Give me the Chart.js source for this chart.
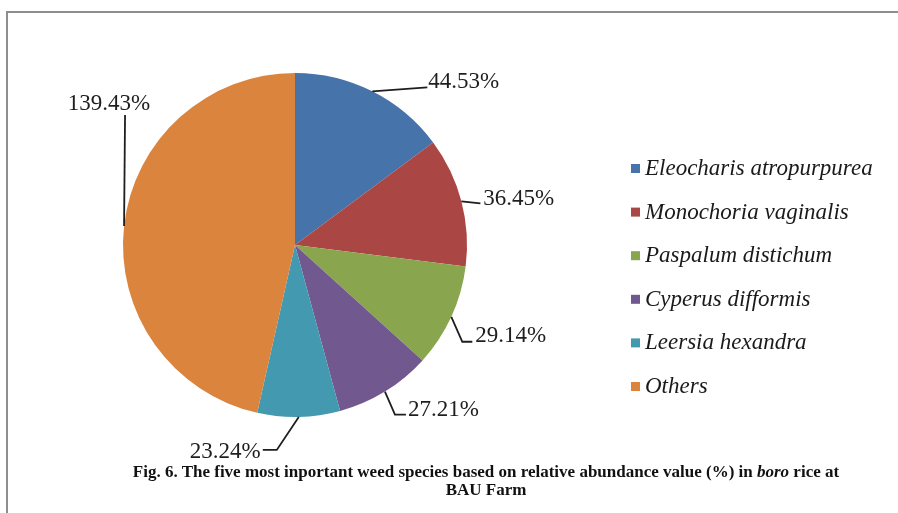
<!DOCTYPE html>
<html>
<head>
<meta charset="utf-8">
<script src="https://cdn.jsdelivr.net/npm/chart.js@4.4.1/dist/chart.umd.min.js"></script>
<style>
	body { margin: 0; background: #fff; }
	#wrap { position: relative; width: 898px; height: 513px; overflow: hidden; }
	#frame {
		position: absolute; left: 6px; top: 11px; width: 900px; height: 520px;
		border-top: 2px solid #8e8e8e; border-left: 2px solid #8e8e8e;
	}
	#caption {
		position: absolute; left: 86px; width: 800px; top: 463px;
		font-family: "Liberation Serif", "Times New Roman", serif;
		font-weight: bold; font-size: 17px; line-height: 18px;
		text-align: center; color: #111;
	}
	canvas { position: absolute; left: 0; top: 0; }
</style>
</head>
<body>
<div id="wrap">
	<div id="frame"></div>
	<canvas id="weedChart" width="898" height="513"></canvas>
	<div id="caption">Fig. 6. The five most inportant weed species based on relative abundance value (%) in <i>boro</i> rice at<br>BAU Farm</div>
</div>
<script>
// species names, values
const species = [
	'Eleocharis atropurpurea',
	'Monochoria vaginalis',
	'Paspalum distichum',
	'Cyperus difformis',
	'Leersia hexandra',
	'Others'
];
const abundance = [44.53, 36.45, 29.14, 27.21, 23.24, 139.43];
const sliceColors = ['#4673a9', '#aa4744', '#89a54e', '#71598f', '#4299b0', '#db843d'];

// leader line bends (relative to slice edge) and text offset from the line end
const labelLayout = [
	{ path: [[55, -4]], align: 'left', dx: 1, dy: 1 },
	{ path: [[19, 2]], align: 'left', dx: 3, dy: 2 },
	{ path: [[11, 25], [21, 25]], align: 'left', dx: 3, dy: 0 },
	{ path: [[10, 23], [21, 23]], align: 'left', dx: 2, dy: 1 },
	{ path: [[-22, 33], [-36, 33]], align: 'right', dx: -2, dy: 8 },
	{ path: [[1, -111]], align: 'center', dx: -16, dy: -5 }
];

const sliceLabels = {
	id: 'sliceLabels',
	afterDatasetsDraw(chart) {
		const ctx = chart.ctx;
		const meta = chart.getDatasetMeta(0);
		const values = chart.data.datasets[0].data;
		ctx.save();
		ctx.strokeStyle = '#1e1e1e';
		ctx.lineWidth = 1.8;
		ctx.fillStyle = '#1e1e1e';
		ctx.font = '23px "Liberation Serif", "Times New Roman", serif';
		ctx.textBaseline = 'alphabetic';
		meta.data.forEach((arc, i) => {
			const p = arc.getProps(['x', 'y', 'startAngle', 'endAngle', 'outerRadius'], true);
			const mid = (p.startAngle + p.endAngle) / 2;
			const ex = p.x + p.outerRadius * Math.cos(mid);
			const ey = p.y + p.outerRadius * Math.sin(mid);
			const lay = labelLayout[i];
			ctx.beginPath();
			ctx.moveTo(ex, ey);
			let lx = ex, ly = ey;
			lay.path.forEach(([dx, dy]) => {
				lx = ex + dx; ly = ey + dy;
				ctx.lineTo(lx, ly);
			});
			ctx.stroke();
			ctx.textAlign = lay.align;
			ctx.fillText(values[i].toFixed(2) + '%', lx + lay.dx, ly + lay.dy);
		});
		ctx.restore();
	}
};

const sideLegend = {
	id: 'sideLegend',
	afterDraw(chart) {
		const ctx = chart.ctx;
		const colors = chart.data.datasets[0].backgroundColor;
		ctx.save();
		ctx.font = 'italic 23px "Liberation Serif", "Times New Roman", serif';
		ctx.textBaseline = 'middle';
		ctx.textAlign = 'left';
		chart.data.labels.forEach((name, i) => {
			const y = 169 + i * 43.6;
			ctx.fillStyle = colors[i];
			ctx.fillRect(631, y - 5, 9, 9);
			ctx.fillStyle = '#1a1a1a';
			ctx.fillText(name, 645, y);
		});
		ctx.restore();
	}
};

new Chart(document.getElementById('weedChart').getContext('2d'), {
	type: 'pie',
	data: {
		labels: species,
		datasets: [{
			data: abundance,
			backgroundColor: sliceColors,
			borderWidth: 0
		}]
	},
	options: {
		responsive: false,
		animation: false,
		layout: { padding: { left: 123, right: 431, top: 73, bottom: 96 } },
		plugins: {
			legend: { display: false },
			tooltip: { enabled: false }
		}
	},
	plugins: [sliceLabels, sideLegend]
});
</script>
</body>
</html>
